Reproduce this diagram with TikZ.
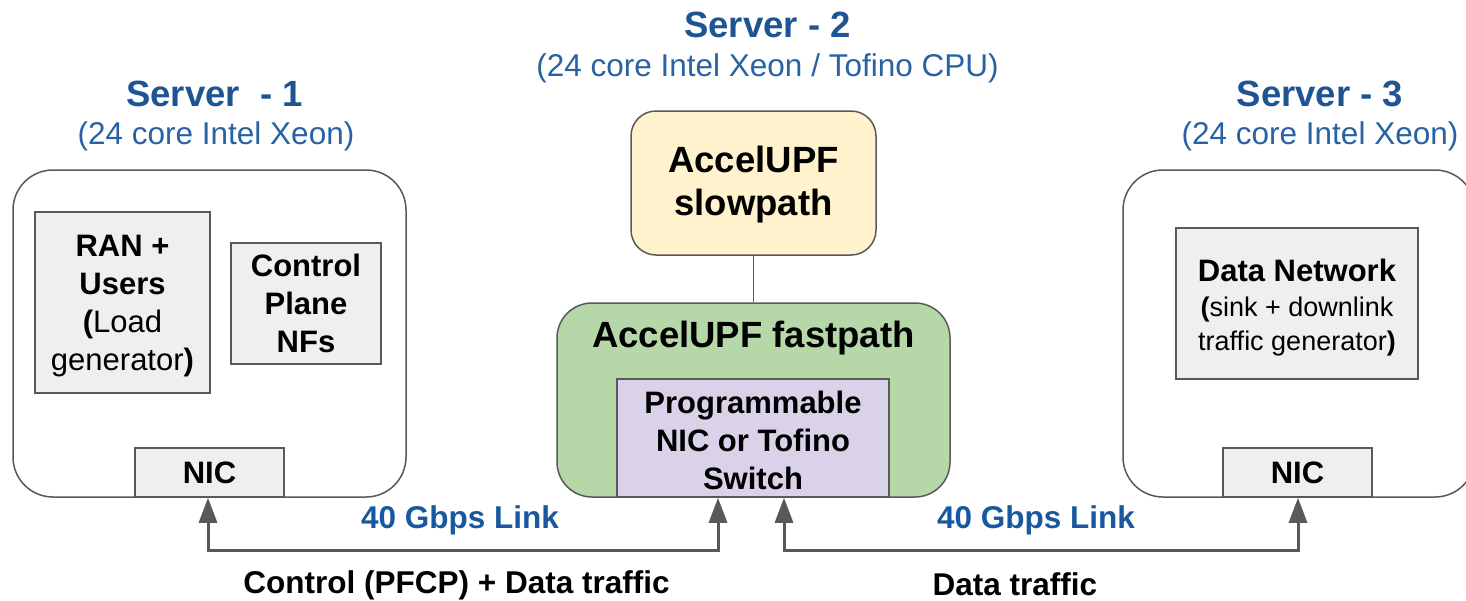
\documentclass[tikz,border=0pt]{standalone}
\usepackage{fontspec}
\setmainfont{Liberation Sans}
\usetikzlibrary{arrows.meta}
\definecolor{edge}{RGB}{89,89,89}
\definecolor{boxgray}{RGB}{239,239,239}
\definecolor{slowfill}{RGB}{255,242,204}
\definecolor{fastfill}{RGB}{182,215,168}
\definecolor{progfill}{RGB}{217,210,233}
\definecolor{titleblue}{RGB}{30,84,148}
\definecolor{subblue}{RGB}{40,98,162}
\definecolor{linkblue}{RGB}{24,88,158}
\newcommand{\smallfs}{\fontsize{27}{34}\selectfont}
\tikzset{
  server/.style={draw=edge, line width=1.5pt, rounded corners=40pt, inner sep=0pt, fill=white},
  graybox/.style={draw=edge, line width=1.5pt, fill=boxgray, inner sep=0pt, align=center,
    font=\fontsize{31}{38}\selectfont\bfseries},
  boxtxt/.style={inner sep=0pt, align=center, font=\fontsize{31}{38}\selectfont\bfseries},
  titletxt/.style={inner sep=0pt, text=titleblue, font=\fontsize{36.5}{40}\selectfont\bfseries},
  subtxt/.style={inner sep=0pt, text=subblue, font=\fontsize{31.5}{36}\selectfont},
  linktxt/.style={inner sep=0pt, text=linkblue, font=\fontsize{31.5}{36}\selectfont\bfseries},
  traffictxt/.style={inner sep=0pt, text=black, font=\fontsize{31.5}{36}\selectfont\bfseries},
  linkarrow/.style={draw=edge, line width=3pt, {Triangle[length=25pt,width=18pt]}-{Triangle[length=25pt,width=18pt]}},
}
\begin{document}
\begin{tikzpicture}[x=1pt,y=-1pt]
\useasboundingbox (0,0) rectangle (1466,600);
% titles
\node[titletxt] (t1) at (214.5,94) {Server\ \ - 1};
\node[subtxt] (s1) at (216,136.5) {(24 core Intel Xeon)};
\node[titletxt] (t2) at (767.5,24.5) {Server - 2};
\node[subtxt] (s2) at (767.5,68) {(24 core Intel Xeon / Tofino CPU)};
\node[titletxt] (t3) at (1320,94) {Server - 3};
\node[subtxt] (s3) at (1320,136.5) {(24 core Intel Xeon)};
% server 1
\node[server, minimum width=393pt, minimum height=327pt] (srv1) at (209.5,333.5) {};
\node[graybox, minimum width=175pt, minimum height=181pt] (ran) at (122.5,302.5) {};
\node[boxtxt] (rantxt) at (122.5,306.5)
  {RAN +\\Users\\(\mdseries Load\\\mdseries generator\bfseries)};
\node[graybox, minimum width=150pt, minimum height=121pt] (cp) at (306,303.5)
  {Control\\Plane\\NFs};
\node[graybox, minimum width=149pt, minimum height=49pt] (nic1) at (209.5,472.5) {NIC};
% server 2
\node[draw=edge, line width=1.5pt, fill=slowfill, rounded corners=25pt, inner sep=0pt,
  minimum width=245pt, minimum height=144pt] (slow) at (753.5,183) {};
\node[inner sep=0pt, align=center, font=\fontsize{36.5}{43}\selectfont\bfseries] (slowtxt)
  at (753.5,185) {AccelUPF\\slowpath};
\node[draw=edge, line width=1.5pt, fill=fastfill, rounded corners=35pt, inner sep=0pt,
  minimum width=393pt, minimum height=194pt] (fast) at (753.5,400) {};
\node[inner sep=0pt, font=\fontsize{36.5}{43}\selectfont\bfseries] (fasttxt) at (753.5,338) {AccelUPF fastpath};
\node[draw=edge, line width=1.5pt, fill=progfill, inner sep=0pt,
  minimum width=272pt, minimum height=118pt] (prog) at (753,438) {};
\node[boxtxt] (progtxt) at (753,440) {Programmable\\NIC or Tofino\\Switch};
\draw[edge, line width=1.5pt] (slow.south) -- (fast.north);
% server 3
\node[server, minimum width=352pt, minimum height=327pt] (srv3) at (1299,333.5) {};
\node[graybox, minimum width=242pt, minimum height=151pt] (dn) at (1297,303.5) {};
\node[inner sep=0pt, align=center, font=\fontsize{31}{35}\selectfont\bfseries] (dntxt) at (1297,308)
  {Data Network\\[-0.5pt]\smallfs(\mdseries sink + downlink\\[-0.5pt]\smallfs\mdseries traffic generator\bfseries)};
\node[graybox, minimum width=149pt, minimum height=49pt] (nic3) at (1297.5,472.5) {NIC};
% links
\draw[linkarrow] ([xshift=-1.5pt]nic1.south) -- ++(0,53) -| ([xshift=-35pt]prog.south);
\draw[linkarrow] ([xshift=31pt]prog.south) -- ++(0,53) -| ([xshift=0.5pt]nic3.south);
\node[linktxt] (l1) at (460,520) {40 Gbps Link};
\node[linktxt] (l2) at (1036,520) {40 Gbps Link};
\node[traffictxt] (d1) at (456.5,585) {Control (PFCP) + Data traffic};
\node[traffictxt] (d2) at (1015,584) {Data traffic};
\end{tikzpicture}
\end{document}
